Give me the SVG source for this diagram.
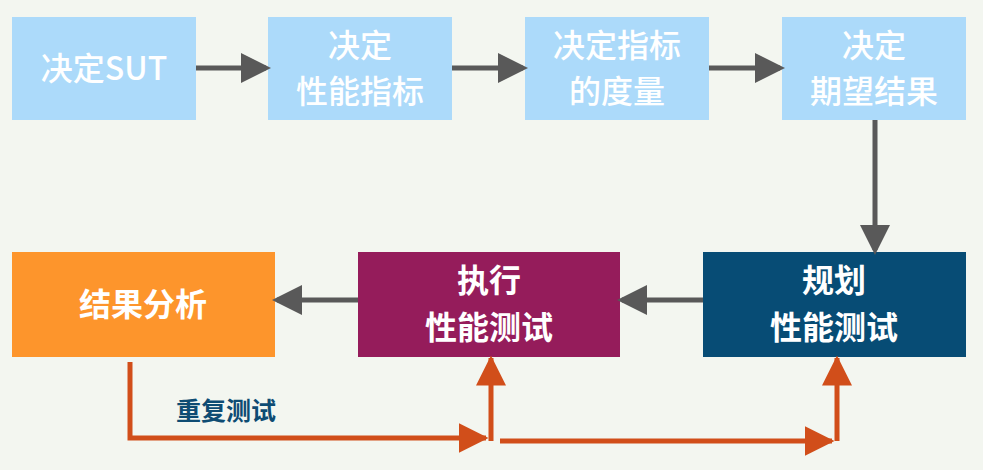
<svg xmlns="http://www.w3.org/2000/svg" width="983" height="470" viewBox="0 0 983 470">
<style>
.t{font-family:"Noto Sans CJK SC","Liberation Sans",sans-serif;font-size:32px;font-weight:500;fill:#fff;text-anchor:middle}
.b{font-weight:bold}
.lb{fill:#acdafa}
.g{stroke:#595959;stroke-width:5;fill:none}
.o{stroke:#d14e1a;stroke-width:5;fill:none}
</style>
<defs>
<marker id="ag" markerWidth="6" markerHeight="6" refX="5" refY="3" orient="auto" markerUnits="strokeWidth"><path d="M0,0 L6,3 L0,6Z" fill="#595959"/></marker>
<marker id="ao" markerWidth="6" markerHeight="6" refX="5.5" refY="3" orient="auto" markerUnits="strokeWidth"><path d="M0,0 L6,3 L0,6Z" fill="#d14e1a"/></marker>
</defs>
<rect width="983" height="470" fill="#f3f6f0"/>
<g id="n1"><rect class="lb" x="12" y="17" width="184" height="103"/><text class="t" x="104" y="80">决定SUT</text></g>
<g id="n2"><rect class="lb" x="268" y="17" width="184" height="103"/><text class="t" x="360" y="57">决定</text><text class="t" x="360" y="103">性能指标</text></g>
<g id="n3"><rect class="lb" x="525" y="17" width="184" height="103"/><text class="t" x="617" y="57">决定指标</text><text class="t" x="617" y="103">的度量</text></g>
<g id="n4"><rect class="lb" x="782" y="17" width="184" height="103"/><text class="t" x="874" y="57">决定</text><text class="t" x="874" y="103">期望结果</text></g>
<g id="n5"><rect fill="#fd952c" x="12" y="252" width="263" height="105"/><text class="t b" x="143" y="316">结果分析</text></g>
<g id="n6"><rect fill="#951c5b" x="358" y="252" width="262" height="105"/><text class="t b" x="489" y="292">执行</text><text class="t b" x="489" y="339">性能测试</text></g>
<g id="n7"><rect fill="#074c75" x="703" y="252" width="263" height="105"/><text class="t b" x="834" y="292">规划</text><text class="t b" x="834" y="339">性能测试</text></g>
<g id="connectors">
<path class="g" marker-end="url(#ag)" d="M196,68 H266"/>
<path class="g" marker-end="url(#ag)" d="M452,68 H523"/>
<path class="g" marker-end="url(#ag)" d="M709,68 H780"/>
<path class="g" marker-end="url(#ag)" d="M875,120 V250"/>
<path class="g" marker-end="url(#ag)" d="M703,300 H622"/>
<path class="g" marker-end="url(#ag)" d="M358,300 H277"/>
<path class="o" marker-end="url(#ao)" d="M130,362 V438 H486"/>
<path class="o" marker-end="url(#ao)" d="M491,441 V358"/>
<path class="o" marker-end="url(#ao)" d="M500,441 H832"/>
<path class="o" marker-end="url(#ao)" d="M837,441 V358"/>
<text x="176" y="420" font-family="Noto Sans CJK SC,Liberation Sans,sans-serif" font-size="25" font-weight="bold" fill="#0e4c73">重复测试</text>
</g>
</svg>
